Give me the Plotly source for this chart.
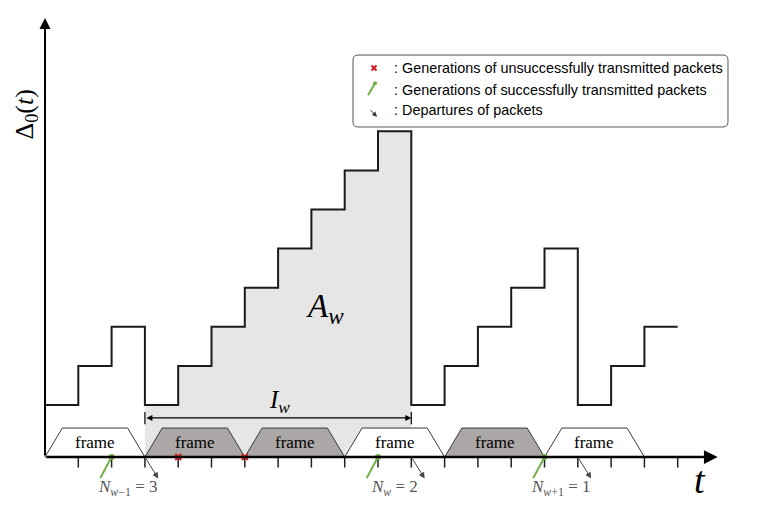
import numpy as np
import plotly.graph_objects as go

# age levels on each unit slot t..t+1 (0 = level right after a departure)
levels = [0, 1, 2, 0, 1, 2, 3, 4, 5, 6, 7, 0, 1, 2, 3, 4, 0, 1, 2]
base = 1.33
frame_starts = [0, 3, 6, 9, 12, 15]
frame_gray = [False, True, True, False, True, False]
fails_t = [4, 6]
success_t = [2, 10, 15]
depart_t = [3, 11, 16]
n_labels = ["<i>N</i><sub><i>w</i>−1</sub> = 3", "<i>N</i><sub><i>w</i></sub> = 2", "<i>N</i><sub><i>w</i>+1</sub> = 1"]
legend_texts = [": Generations of unsuccessfully transmitted packets",
                ": Generations of successfully transmitted packets",
                ": Departures of packets"]
shade_from, shade_to = 3, 11

serif = "Liberation Serif, DejaVu Serif, serif"
sans = "Liberation Sans, Arial, sans-serif"
green = "#6fae45"

fig = go.Figure()

# shaded area A_w
sx, sy = [shade_from], [0]
for i in range(shade_from, shade_to):
    sx += [i, i + 1]
    sy += [base + levels[i], base + levels[i]]
sx += [shade_to, shade_from]
sy += [0, 0]
fig.add_trace(go.Scatter(x=sx, y=sy, fill="toself", fillcolor="#e6e6e6",
                         line=dict(width=0), mode="lines", hoverinfo="skip"))

# frames
for s, g in zip(frame_starts, frame_gray):
    fig.add_trace(go.Scatter(x=[s, s + 0.52, s + 2.48, s + 3, s],
                             y=[0, 0.74, 0.74, 0, 0], fill="toself",
                             fillcolor="#aba7a6" if g else "white",
                             line=dict(color="#3a3a3a", width=1), mode="lines",
                             hoverinfo="skip"))
    fig.add_annotation(x=s + 1.5, y=0.37, text="frame", showarrow=False,
                       font=dict(family=serif, size=17, color="black"))

# age step function
tx = list(range(len(levels) + 1))
ty = [base + v for v in levels] + [base + levels[-1]]
fig.add_trace(go.Scatter(x=tx, y=ty, mode="lines", line_shape="hv",
                         line=dict(color="#1a1a1a", width=2), hoverinfo="skip"))

# ticks
for k in range(1, 20):
    fig.add_trace(go.Scatter(x=[k, k], y=[0, -0.27], mode="lines",
                             line=dict(color="#222", width=1.5), hoverinfo="skip"))

# green successful generations
for t in success_t:
    fig.add_trace(go.Scatter(x=[t - 0.34, t], y=[-0.54, 0], mode="lines",
                             line=dict(color=green, width=2), hoverinfo="skip"))
fig.add_trace(go.Scatter(x=success_t, y=[0] * len(success_t), mode="markers",
                         marker=dict(size=6, color=green), hoverinfo="skip"))

# axes
fig.add_annotation(x=20.2, y=0, ax=0, ay=0, axref="x", ayref="y", text="",
                   showarrow=True, arrowhead=2, arrowsize=1.1, arrowwidth=2.5, arrowcolor="black")
fig.add_annotation(x=0, y=11.23, ax=0, ay=0, axref="x", ayref="y", text="",
                   showarrow=True, arrowhead=2, arrowsize=1.1, arrowwidth=2, arrowcolor="black")

# red failures
fig.add_trace(go.Scatter(x=fails_t, y=[0] * len(fails_t), mode="markers",
                         marker=dict(symbol="x-thin", size=6, line=dict(width=2.2, color="#d7191c")),
                         hoverinfo="skip"))

# departures
for t in depart_t:
    fig.add_annotation(x=t + 0.4, y=-0.55, ax=t, ay=0, axref="x", ayref="y", text="",
                       showarrow=True, arrowhead=2, arrowsize=1.2, arrowwidth=1, arrowcolor="#444")

# N labels
for t, lab in zip(success_t, n_labels):
    fig.add_annotation(x=t + 0.5, y=-0.8, text=lab, showarrow=False,
                       font=dict(family=serif, size=17, color="#555"))

# I_w interval
fig.add_annotation(x=shade_to, y=1.0, ax=shade_from, ay=1.0, axref="x", ayref="y", text="",
                   showarrow=True, arrowhead=2, arrowside="end+start", arrowsize=1,
                   arrowwidth=1.2, arrowcolor="black")
for t in [shade_from, shade_to]:
    fig.add_trace(go.Scatter(x=[t, t], y=[0.84, 1.15], mode="lines",
                             line=dict(color="black", width=1.2), hoverinfo="skip"))
fig.add_annotation(x=7.03, y=1.42, text="<i>I</i><sub><i>w</i></sub>", showarrow=False,
                   font=dict(family=serif, size=25, color="black"))
fig.add_annotation(x=8.41, y=3.81, text="<i>A</i><sub><i>w</i></sub>", showarrow=False,
                   font=dict(family=serif, size=33, color="black"))

# axis labels
fig.add_annotation(x=19.67, y=-0.6, text="<i>t</i>", showarrow=False,
                   font=dict(family=serif, size=38, color="black"))
fig.add_annotation(x=-0.58, y=8.75, text="Δ<sub>0</sub>(<i>t</i>)", showarrow=False, textangle=-90,
                   font=dict(family=serif, size=26, color="black"), borderpad=0)

# legend box
x0, x1, y0, y1, rx, ry = 9.25, 20.51, 8.44, 10.28, 0.15, 0.13
path = (f"M {x0+rx},{y1} L {x1-rx},{y1} Q {x1},{y1} {x1},{y1-ry} L {x1},{y0+ry} "
        f"Q {x1},{y0} {x1-rx},{y0} L {x0+rx},{y0} Q {x0},{y0} {x0},{y0+ry} "
        f"L {x0},{y1-ry} Q {x0},{y1} {x0+rx},{y1} Z")
fig.add_shape(type="path", path=path, line=dict(color="#555", width=1), fillcolor="white",
              layer="below")
rows = [9.95, 9.39, 8.87]
for yy, txt in zip(rows, legend_texts):
    fig.add_annotation(x=10.42, y=yy, text=txt, showarrow=False, xanchor="left",
                       font=dict(family=sans, size=14.4, color="black"))
fig.add_trace(go.Scatter(x=[9.88], y=[rows[0]], mode="markers",
                         marker=dict(symbol="x-thin", size=5, line=dict(width=2, color="#d7191c")),
                         hoverinfo="skip"))
fig.add_trace(go.Scatter(x=[9.7, 9.91], y=[rows[1] - 0.14, rows[1] + 0.17], mode="lines",
                         line=dict(color=green, width=2), hoverinfo="skip"))
fig.add_trace(go.Scatter(x=[9.91], y=[rows[1] + 0.17], mode="markers",
                         marker=dict(size=4, color=green), hoverinfo="skip"))
fig.add_annotation(x=9.97, y=rows[2] - 0.17, ax=9.73, ay=rows[2] + 0.04, axref="x", ayref="y",
                   text="", showarrow=True, arrowhead=2, arrowsize=1, arrowwidth=1, arrowcolor="#333")

# page body adds 8px offset, ranges compensate for it
fig.update_layout(
    width=781, height=508,
    margin=dict(l=0, r=0, t=0, b=0),
    plot_bgcolor="white", paper_bgcolor="white",
    showlegend=False,
    xaxis=dict(range=[-1.111, 22.342], visible=False, fixedrange=True),
    yaxis=dict(range=[-1.509, 11.483], visible=False, fixedrange=True),
)

fig.write_html("out.html")
